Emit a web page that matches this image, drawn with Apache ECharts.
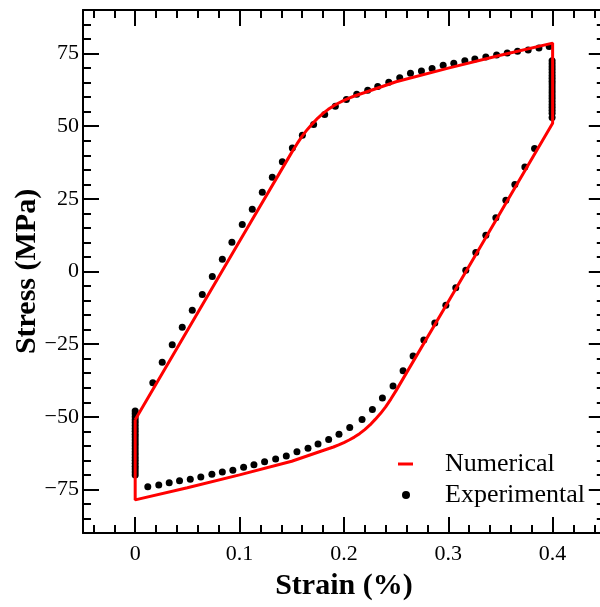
<!DOCTYPE html>
<html>
<head>
<meta charset="utf-8">
<script src="https://cdn.jsdelivr.net/npm/echarts@6/dist/echarts.min.js"></script>
<style>
html,body{margin:0;padding:0;background:#fff;}
#chart{width:600px;height:607px;}
</style>
</head>
<body>
<div id="chart"></div>
<script>
// ---- Data ----
const numericalStrain = [0, 0.05, 0.10, 0.15, 0.155, 0.16, 0.165, 0.17, 0.175, 0.18, 0.185, 0.19, 0.195, 0.20, 0.205, 0.21, 0.22, 0.25, 0.30, 0.35, 0.40,
  0.40, 0.35, 0.30, 0.25, 0.245, 0.24, 0.235, 0.23, 0.225, 0.22, 0.215, 0.21, 0.205, 0.20, 0.195, 0.19, 0.18, 0.15, 0.10, 0.05, 0, 0];
const numericalStress = [-51, -20.3, 10.4, 41.0, 43.9, 46.6, 48.9, 50.9, 52.8, 54.4, 55.8, 57.0, 58.0, 58.9, 59.7, 60.4, 61.6, 65.3, 70.0, 74.4, 78.6,
  51, 20.3, -10.4, -41.0, -43.9, -46.6, -48.9, -50.9, -52.8, -54.4, -55.8, -57.0, -58.0, -58.9, -59.7, -60.4, -61.6, -65.3, -70.0, -74.4, -78.6, -51];

const experimentalStrain = [
  0, 0, 0, 0, 0, 0, 0, 0, 0, 0, 0, 0, 0, 0, 0, 0, 0, 0, 0, 0, 0, 0, 0,
  0.0169, 0.0259, 0.0355, 0.0451, 0.0547, 0.0643, 0.0739, 0.0835, 0.0927, 0.1026,
  0.1122, 0.1218, 0.1314, 0.1410, 0.1506, 0.1602, 0.1710, 0.1816, 0.1918, 0.2024,
  0.2123, 0.2228, 0.2324, 0.2430, 0.2535, 0.2638, 0.2743, 0.2845, 0.2951, 0.3053,
  0.3159, 0.3255, 0.3360, 0.3463, 0.3565, 0.3664, 0.3766, 0.3869, 0.3967,
  0.3995, 0.3995, 0.3995, 0.3995, 0.3995, 0.3995, 0.3995, 0.3995, 0.3995, 0.3995,
  0.3995, 0.3995, 0.3995, 0.3995, 0.3995, 0.3995, 0.3995, 0.3995, 0.3995, 0.3995,
  0.3827, 0.3734, 0.3638, 0.3552, 0.3456, 0.3360, 0.3264, 0.3168, 0.3072, 0.2977,
  0.2871, 0.2766, 0.2663, 0.2567, 0.2471, 0.2369, 0.2273, 0.2174, 0.2056, 0.1953,
  0.1854, 0.1752, 0.1656, 0.1550, 0.1448, 0.1346, 0.1240, 0.1138, 0.1039, 0.0936,
  0.0835, 0.0735, 0.0629, 0.0528, 0.0425, 0.0326, 0.0226, 0.0121
];
const experimentalStress = [
  -70, -69, -68, -67, -66, -65, -64, -63, -62, -61, -60, -59, -58, -57, -56, -55, -54, -53, -52, -51, -50, -49, -48,
  -38.3, -31.2, -25.2, -19.2, -13.3, -7.9, -1.7, 4.2, 10.1, 16.2,
  21.4, 27.3, 32.4, 37.8, 42.5, 46.9, 50.6, 54.0, 56.9, 59.2,
  61.0, 62.4, 63.7, 65.1, 66.7, 68.2, 69.0, 69.9, 71.0, 71.7,
  72.5, 73.1, 73.8, 74.5, 75.2, 75.8, 76.2, 76.9, 77.4,
  72.5, 71.5, 70.5, 69.5, 68.5, 67.5, 66.5, 65.5, 64.5, 63.5,
  62.5, 61.5, 60.5, 59.5, 58.5, 57.5, 56.5, 55.5, 54.5, 53,
  42.3, 36.0, 29.9, 24.5, 18.5, 12.5, 6.5, 0.4, -5.6, -11.6,
  -17.7, -23.6, -29.1, -34.2, -39.4, -43.5, -47.5, -50.9, -53.7, -56.0,
  -57.8, -59.4, -60.8, -62.0, -63.5, -64.5, -65.5, -66.5, -67.4, -68.4,
  -69.0, -69.8, -70.7, -71.5, -72.0, -72.7, -73.5, -74.1
];

const xTicks = [0, 0.1, 0.2, 0.3, 0.4];
const xTickLabels = ['0', '0.1', '0.2', '0.3', '0.4'];
const xMinorTicks = [-0.04, -0.02, 0.02, 0.04, 0.06, 0.08, 0.12, 0.14, 0.16, 0.18, 0.22, 0.24, 0.26, 0.28,
  0.32, 0.34, 0.36, 0.38, 0.42, 0.44];
const yTicks = [-75, -50, -25, 0, 25, 50, 75];
const yTickLabels = ['\u221275', '\u221250', '\u221225', '0', '25', '50', '75'];
const yMinorTicks = [-85, -80, -70, -65, -60, -55, -45, -40, -35, -30, -20, -15, -10, -5,
  5, 10, 15, 20, 30, 35, 40, 45, 55, 60, 65, 70, 80, 85];

// ---- Chart ----
const FONT = '"Liberation Serif", "Times New Roman", serif';
const numData = numericalStrain.map((x, i) => [x, numericalStress[i]]);
const expData = experimentalStrain.map((x, i) => [x, experimentalStress[i]]);

function xLabel(v) { const i = xTicks.findIndex(t => Math.abs(t - v) < 1e-9); return i >= 0 ? xTickLabels[i] : ''; }
function yLabel(v) { const i = yTicks.findIndex(t => Math.abs(t - v) < 1e-9); return i >= 0 ? yTickLabels[i] : ''; }

const lineBlack = { color: '#000', width: 2 };
function xAxisDef(pos, major, withLabel) {
  return {
    type: 'value', min: -0.05, max: 0.45, position: pos,
    axisLine: { show: major, onZero: false, lineStyle: lineBlack },
    axisTick: { show: true, inside: true, length: major ? 16 : 8, customValues: major ? xTicks : xMinorTicks, lineStyle: lineBlack },
    axisLabel: withLabel ? { show: true, customValues: xTicks, formatter: xLabel, fontFamily: FONT, fontSize: 22, color: '#000', margin: 10 } : { show: false },
    splitLine: { show: false },
    minorTick: { show: false },
    name: withLabel ? 'Strain (%)' : '',
    nameLocation: 'middle', nameGap: 38, nameMoveOverlap: false,
    nameTextStyle: { fontFamily: FONT, fontSize: 30, fontWeight: 'bold', color: '#000' }
  };
}
function yAxisDef(pos, major, withLabel) {
  return {
    type: 'value', min: -90, max: 90, position: pos,
    axisLine: { show: major, onZero: false, lineStyle: lineBlack },
    axisTick: { show: true, inside: true, length: major ? 16 : 8, customValues: major ? yTicks : yMinorTicks, lineStyle: lineBlack },
    axisLabel: withLabel ? { show: true, customValues: yTicks, formatter: yLabel, fontFamily: FONT, fontSize: 22, color: '#000', margin: 4 } : { show: false },
    splitLine: { show: false },
    minorTick: { show: false },
    name: withLabel ? 'Stress (MPa)' : '',
    nameLocation: 'middle', nameGap: 41, nameRotate: 90, nameMoveOverlap: false,
    nameTextStyle: { fontFamily: FONT, fontSize: 30, fontWeight: 'bold', color: '#000' }
  };
}

const chart = echarts.init(document.getElementById('chart'), null, { renderer: 'canvas' });
chart.setOption({
  backgroundColor: '#fff',
  animation: false,
  grid: { left: 83, top: 10, width: 521.8, height: 523, containLabel: false, outerBoundsMode: 'none' },
  xAxis: [xAxisDef('bottom', true, true), xAxisDef('top', true, false), xAxisDef('bottom', false, false), xAxisDef('top', false, false)],
  yAxis: [yAxisDef('left', true, true), yAxisDef('right', true, false), yAxisDef('left', false, false), yAxisDef('right', false, false)],
  legend: [
    {
      data: ['Numerical'], left: 398, top: 451, padding: 0, selectedMode: false,
      icon: 'rect', itemWidth: 15, itemHeight: 3,
      textStyle: { fontFamily: FONT, fontSize: 26, color: '#000', padding: [0, 0, 0, 27] }
    },
    {
      data: ['Experimental'], left: 402, top: 482, padding: 0, selectedMode: false,
      icon: 'circle', itemWidth: 8, itemHeight: 8,
      textStyle: { fontFamily: FONT, fontSize: 26, color: '#000', padding: [0, 0, 0, 30] }
    }
  ],
  series: [
    {
      name: 'Numerical', type: 'line', xAxisIndex: 0, yAxisIndex: 0,
      data: numData, showSymbol: false, symbol: 'none', smooth: false,
      lineStyle: { color: '#ff0000', width: 3 }, itemStyle: { color: '#ff0000' }, z: 3
    },
    {
      name: 'Experimental', type: 'scatter', xAxisIndex: 0, yAxisIndex: 0,
      data: expData, symbol: 'circle', symbolSize: 7,
      itemStyle: { color: '#000', opacity: 1 }, z: 2
    }
  ]
});
</script>
</body>
</html>
